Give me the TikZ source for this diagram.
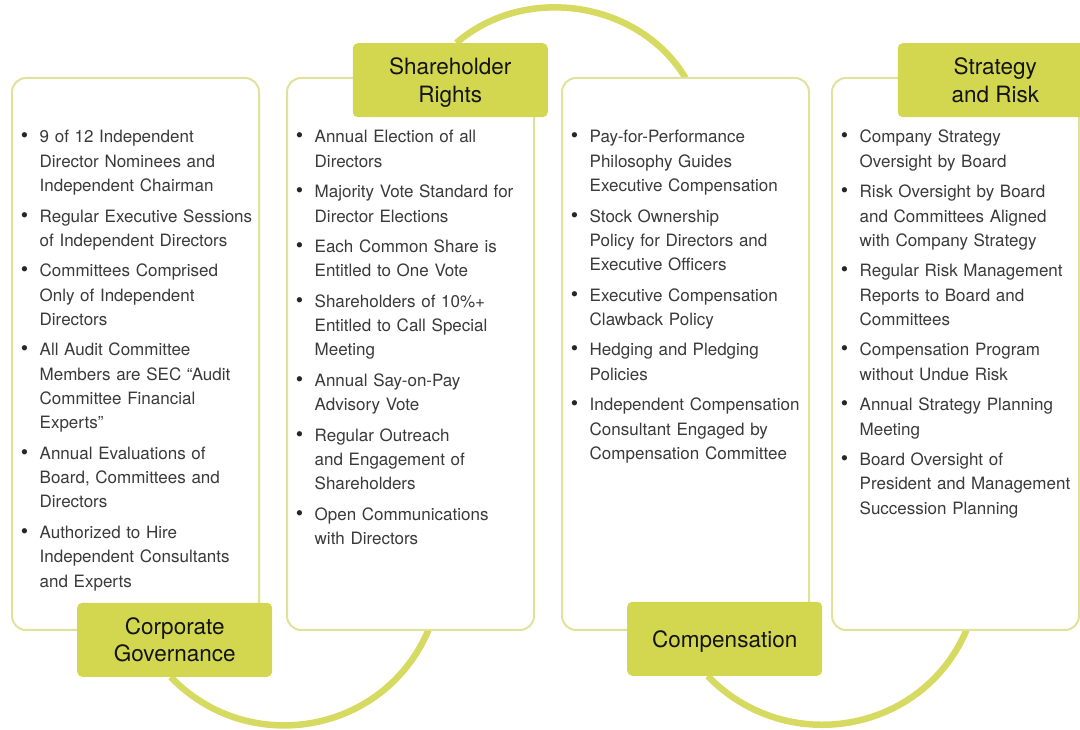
\documentclass[tikz,border=0pt]{standalone}
\usepackage{fontspec}
\setmainfont{TeX Gyre Heros}
\usetikzlibrary{positioning,calc,backgrounds}

\definecolor{tagfill}{RGB}{211,215,80}
\definecolor{ringline}{RGB}{214,218,96}
\definecolor{panelline}{RGB}{224,226,156}
\definecolor{bodytext}{RGB}{58,58,58}

\newenvironment{dotlist}{\begin{list}{\textcolor{black!85}{\fontsize{21}{21}\selectfont\textbullet}}{%
    \setlength{\leftmargin}{24.5pt}\setlength{\labelwidth}{10pt}%
    \setlength{\labelsep}{11.5pt}\setlength{\itemsep}{6.2pt}%
    \setlength{\parsep}{0pt}\setlength{\topsep}{0pt}\setlength{\partopsep}{0pt}}}%
  {\end{list}}

\begin{document}
\begin{tikzpicture}[x=1pt,y=1pt,node distance=28pt]
  \tikzstyle{panel}=[rectangle,draw=panelline,line width=2pt,fill=white,rounded corners=14pt,
                     minimum width=247pt,minimum height=552pt,inner sep=0pt,outer sep=0pt]
  \tikzstyle{tag}=[rectangle,fill=tagfill,rounded corners=5pt,minimum width=195pt,minimum height=74pt,
                   align=center,text depth=-3pt,text=black!92,font=\fontsize{22.5}{27.5}\selectfont]
  \tikzstyle{points}=[anchor=north west,text width=250pt,align=left,inner sep=0pt,
                      text=bodytext,font=\fontsize{17}{24.3}\selectfont]
  \tikzstyle{ring}=[draw=ringline,line width=6.5pt]

  \useasboundingbox (0,0) rectangle (1080,729);
  \clip (0,0) rectangle (1080,729);

  \node[panel,anchor=north west] (gov) at (12,651) {};
  \node[panel,right=of gov] (share) {};
  \node[panel,right=of share] (comp) {};
  \node[panel,right=23pt of comp] (strat) {};

  \node[points] (gov-pts) at ([shift={(3,-40.5)}]gov.north west) {\begin{dotlist}
    \item 9 of 12 Independent\\ Director Nominees and\\ Independent Chairman
    \item Regular Executive Sessions\\ of Independent Directors
    \item Committees Comprised\\ Only of Independent\\ Directors
    \item All Audit Committee\\ Members are SEC “Audit\\ Committee Financial\\ Experts”
    \item Annual Evaluations of\\ Board, Committees and\\ Directors
    \item Authorized to Hire\\ Independent Consultants\\ and Experts
  \end{dotlist}};
  \node[points] (share-pts) at ([shift={(3,-40.5)}]share.north west) {\begin{dotlist}
    \item Annual Election of all\\ Directors
    \item Majority Vote Standard for\\ Director Elections
    \item Each Common Share is\\ Entitled to One Vote
    \item Shareholders of 10\%+\\ Entitled to Call Special\\ Meeting
    \item Annual Say-on-Pay\\ Advisory Vote
    \item Regular Outreach\\ and Engagement of\\ Shareholders
    \item Open Communications\\ with Directors
  \end{dotlist}};
  \node[points] (comp-pts) at ([shift={(3,-40.5)}]comp.north west) {\begin{dotlist}
    \item Pay-for-Performance\\ Philosophy Guides\\ Executive Compensation
    \item Stock Ownership\\ Policy for Directors and\\ Executive Officers
    \item Executive Compensation\\ Clawback Policy
    \item Hedging and Pledging\\ Policies
    \item Independent Compensation\\ Consultant Engaged by\\ Compensation Committee
  \end{dotlist}};
  \node[points] (strat-pts) at ([shift={(3,-40.5)}]strat.north west) {\begin{dotlist}
    \item Company Strategy\\ Oversight by Board
    \item Risk Oversight by Board\\ and Committees Aligned\\ with Company Strategy
    \item Regular Risk Management\\ Reports to Board and\\ Committees
    \item Compensation Program\\ without Undue Risk
    \item Annual Strategy Planning\\ Meeting
    \item Board Oversight of\\ President and Management\\ Succession Planning
  \end{dotlist}};

  \node[tag,anchor=north east] (share-tag) at ([shift={(14,35)}]share.north east) {Shareholder\\Rights};
  \node[tag,anchor=north east] (risk-tag) at ([shift={(14,35)}]strat.north east) {Strategy\\and Risk};
  \node[tag,anchor=south west] (gov-tag) at ([shift={(65,-47)}]gov.south west) {Corporate\\Governance};
  \node[tag,anchor=south west] (comp-tag) at ([shift={(65,-46)}]comp.south west) {Compensation};

  % rings behind the panels
  \begin{scope}[on background layer]
    \draw[ring] ([xshift=6]share-tag.north) to[out=41,in=121] (comp.north);
    \draw[ring] ([xshift=-4]gov-tag.south) to[out=-46,in=-113,looseness=1.1] ([xshift=18]share.south);
    \draw[ring] ([xshift=-17]comp-tag.south) to[out=-46,in=-113,looseness=1.1] ([xshift=11]strat.south);
  \end{scope}
\end{tikzpicture}
\end{document}
